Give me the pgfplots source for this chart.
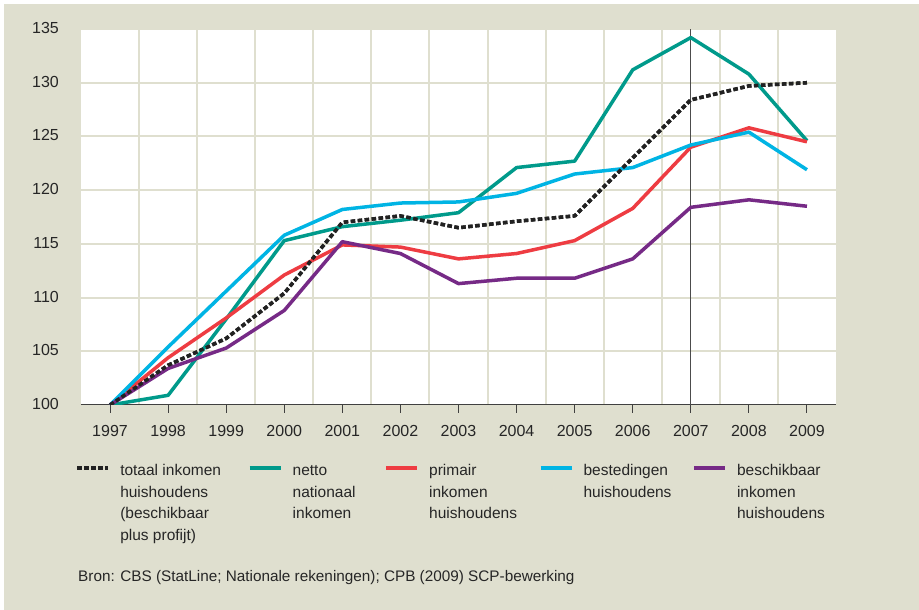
\documentclass[border=0pt]{standalone}
\usepackage{pgfplots}
\pgfplotsset{compat=1.18}
\usepackage{fontspec}
\setmainfont{Liberation Sans}
\definecolor{bg}{RGB}{223,223,207}
\definecolor{cteal}{RGB}{0,154,139}
\definecolor{cred}{RGB}{238,60,66}
\definecolor{ccyan}{RGB}{0,180,228}
\definecolor{cpurple}{RGB}{118,42,134}
\definecolor{cblack}{RGB}{34,34,34}
\begin{document}
\begin{tikzpicture}[x=1pt,y=1pt]
\fill[white] (0,0) rectangle (919,610);
\fill[bg] (4,0) rectangle (919,606);
\begin{axis}[
  at={(81pt,205pt)}, anchor=south west,
  scale only axis, width=755pt, height=376pt,
  xmin=1996.5, xmax=2009.5, ymin=100, ymax=135,
  axis background/.style={fill=white},
  axis x line=bottom, axis y line=left,
  x axis line style={-, draw=black!75, line width=1pt},
  y axis line style={draw=none},
  xtick={1997,1998,...,2009}, ytick={100,105,...,135},
  minor xtick={1997.5,1998.5,...,2008.5},
  xminorgrids=true, xmajorgrids=false, ymajorgrids=true,
  major grid style={bg, line width=2pt},
  minor grid style={bg, line width=2pt},
  tick align=outside, major tick length=8pt, minor tick length=0pt,
  xtick style={draw=black!75, line width=1pt},
  ytick style={draw=none},
  /pgf/number format/assume math mode=true,
  /pgf/number format/1000 sep={},
  tick label style={font=\fontsize{16}{18}\selectfont, text=black!85},
  yticklabel style={anchor=east, inner sep=0pt, xshift=-14pt, yshift=1pt},
  xticklabel style={anchor=north, inner sep=0pt, yshift=-12pt},
  every axis plot/.append style={line width=3.5pt, line join=round, mark=none},
  legend columns=5,
  legend image code/.code={\path[draw=none,fill=none] (0pt,0pt) -- (43pt,0pt);\draw[#1] (0pt,8pt) -- (31pt,8pt);},
  legend style={at={(-0.00728,-0.1488)}, anchor=north west, draw=none, fill=none,
    inner sep=0pt, outer sep=0pt, column sep=0pt, row sep=0pt,
    font=\fontsize{15.5}{21.5}\selectfont,
    cells={anchor=base west}, nodes={inner sep=0pt, text=black!85}},
]
\draw[black!70, line width=1.2pt] (axis cs:2007,100) -- (axis cs:2007,135);
\addplot[cblack, dash pattern=on 4.5pt off 2.5pt] coordinates {
 (1997,100) (1998,103.7) (1999,106.2) (2000,110.4) (2001,117.0) (2002,117.6) (2003,116.5)
 (2004,117.1) (2005,117.6) (2006,123.0) (2007,128.4) (2008,129.7) (2009,130.0)};
\addlegendentry{\makebox[127.7pt][l]{\begin{tabular}[t]{@{}l@{}}totaal inkomen\\huishoudens\\(beschikbaar\\plus profijt)\end{tabular}}}
\addplot[cteal] coordinates {
 (1997,100) (1998,100.9) (1999,108.0) (2000,115.3) (2001,116.6) (2002,117.2) (2003,117.9)
 (2004,122.1) (2005,122.7) (2006,131.2) (2007,134.2) (2008,130.8) (2009,124.6)};
\addlegendentry{\makebox[91.7pt][l]{\begin{tabular}[t]{@{}l@{}}netto\\nationaal\\inkomen\end{tabular}}}
\addplot[cred] coordinates {
 (1997,100) (1998,104.4) (1999,108.1) (2000,112.1) (2001,114.9) (2002,114.7) (2003,113.6)
 (2004,114.1) (2005,115.3) (2006,118.3) (2007,124.0) (2008,125.8) (2009,124.5)};
\addlegendentry{\makebox[109.7pt][l]{\begin{tabular}[t]{@{}l@{}}primair\\inkomen\\huishoudens\end{tabular}}}
\addplot[ccyan] coordinates {
 (1997,100) (1998,105.4) (1999,110.6) (2000,115.8) (2001,118.2) (2002,118.8) (2003,118.9)
 (2004,119.7) (2005,121.5) (2006,122.1) (2007,124.2) (2008,125.4) (2009,121.9)};
\addlegendentry{\makebox[108.7pt][l]{\begin{tabular}[t]{@{}l@{}}bestedingen\\huishoudens\end{tabular}}}
\addplot[cpurple] coordinates {
 (1997,100) (1998,103.4) (1999,105.3) (2000,108.8) (2001,115.2) (2002,114.1) (2003,111.3)
 (2004,111.8) (2005,111.8) (2006,113.6) (2007,118.4) (2008,119.1) (2009,118.5)};
\addlegendentry{\makebox[90pt][l]{\begin{tabular}[t]{@{}l@{}}beschikbaar\\inkomen\\huishoudens\end{tabular}}}
\addplot[cblack, dash pattern=on 4.5pt off 2.5pt, forget plot] coordinates {
 (1997,100) (1998,103.7) (1999,106.2) (2000,110.4) (2001,117.0) (2002,117.6) (2003,116.5)
 (2004,117.1) (2005,117.6) (2006,123.0) (2007,128.4) (2008,129.7) (2009,130.0)};
\end{axis}
\node[anchor=base west, inner sep=0pt, font=\fontsize{15.3}{18}\selectfont, text=black!85] at (78,28) {Bron: CBS (StatLine; Nationale rekeningen); CPB (2009) SCP-bewerking};
\pgfresetboundingbox
\path[use as bounding box] (0,0) rectangle (919,610);
\end{tikzpicture}
\end{document}
